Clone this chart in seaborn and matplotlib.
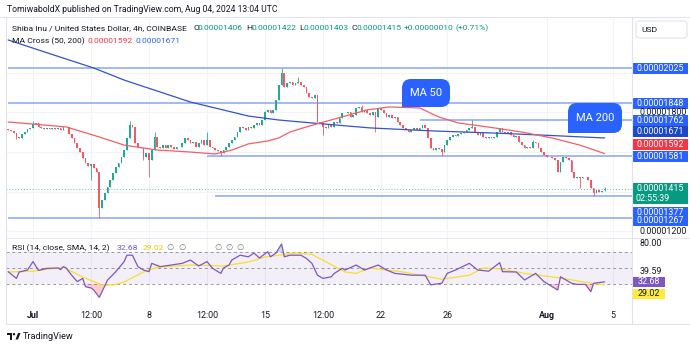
import numpy as np
import pandas as pd
import matplotlib
matplotlib.use("Agg")
import matplotlib.pyplot as plt
from matplotlib.patches import Rectangle, FancyBboxPatch
import seaborn as sns

sns.set_theme(style="white")
plt.rcParams["font.family"] = ["Roboto", "DejaVu Sans"]

UNIT = 1e-8  # SHIB/USD quotes kept as integer multiples of 0.00000001 USD

# ---------------- data: COINBASE SHIB/USD, 4h candles ----------------
start_time = "2024-06-29 12:00"
closes = [
    1711, 1706, 1696, 1676, 1671, 1691, 1701, 1716, 1722,
    1742, 1747, 1727, 1722, 1716, 1722,
    1716, 1722, 1716, 1722, 1711, 1727,
    1727, 1691, 1671, 1646, 1620, 1600,
    1570, 1544, 1529, 1539, 1519, 1499,
    1317,
    1357, 1393, 1423, 1458, 1494, 1524, 1544, 1575, 1610, 1671, 1737,
    1727, 1646, 1625, 1620, 1575, 1595, 1560, 1610, 1676, 1625, 1620,
    1635, 1620, 1635, 1625, 1615, 1625, 1625, 1646, 1671, 1661, 1646,
    1651, 1625, 1646, 1661, 1635, 1661, 1625, 1620, 1610, 1605, 1595,
    1610, 1625, 1646, 1661, 1676, 1701, 1727, 1722, 1711, 1727, 1722,
    1737, 1747, 1737, 1762, 1802, 1813, 1797, 1813, 1863, 1939, 2000,
    1929, 1949, 1954, 1939, 1949, 1954, 1939, 1929, 1899, 1878, 1873,
    1888, 1752, 1747, 1727, 1722, 1737, 1727, 1752, 1747, 1772, 1797,
    1797, 1802, 1777, 1787, 1823, 1828, 1802, 1813, 1797, 1787, 1802,
    1777, 1823, 1813, 1797, 1777, 1787, 1772, 1777, 1752, 1737, 1722,
    1711, 1701, 1711, 1722, 1711, 1722, 1737, 1722, 1671, 1620, 1610,
    1620, 1615, 1600, 1635, 1661, 1676, 1686, 1681, 1691, 1696, 1701,
    1711, 1722, 1727, 1701, 1686, 1696, 1676, 1671, 1676, 1671, 1676,
    1701, 1722, 1701, 1696, 1701, 1686, 1676, 1681, 1651, 1635, 1620,
    1625, 1620, 1651, 1646, 1620, 1600, 1585, 1575, 1575, 1570, 1560,
    1499, 1549, 1575, 1570, 1560, 1499, 1469, 1474, 1469, 1474, 1474,
    1458, 1418, 1393, 1408, 1398, 1405, 1415,
]
first_open = 1716
last_open = 1406
high_idx = [9, 44, 53, 72, 93, 99, 105, 128, 168, 190, 216]
high_vals = [1757, 1757, 1701, 1701, 1808, 2025, 1980, 1838, 1762, 1661, 1422]
low_idx = [3, 30, 33, 49, 51, 77, 114, 133, 157, 207, 212, 216]
low_vals = [1666, 1458, 1267, 1560, 1474, 1581, 1686, 1701, 1580, 1418, 1377, 1403]

# MA Cross (50, 200)
ma50_idx = [0, 21, 33, 42, 54, 66, 75, 81, 87, 94, 98, 102, 108, 113, 122,
            130, 138, 149, 156, 163, 171, 176, 186, 197, 207, 216]
ma50_vals = [1752, 1727, 1676, 1635, 1610, 1600, 1590, 1610, 1641, 1656, 1671,
             1701, 1727, 1747, 1782, 1813, 1828, 1823, 1777, 1747, 1732, 1722,
             1701, 1671, 1635, 1592]
ma200_idx = [0, 15, 31, 42, 66, 87, 98, 110, 131, 155, 176, 196, 216]
ma200_vals = [2167, 2098, 2025, 1964, 1853, 1782, 1762, 1747, 1722, 1706, 1696,
              1684, 1671]

# RSI (14, close) and its SMA (14)
rsi_idx = [0, 3, 4, 7, 9, 11, 14, 18, 19, 20, 21, 23, 25, 27, 28, 30, 31, 33,
           34, 36, 39, 42, 43, 45, 47, 49, 51, 52, 55, 59, 63, 66, 69, 72, 74,
           77, 78, 80, 81, 84, 87, 89, 91, 94, 95, 97, 99, 100, 102, 106, 108,
           110, 112, 114, 117, 118, 121, 122, 126, 129, 134, 137, 140, 146,
           151, 153, 157, 159, 162, 167, 170, 174, 178, 179, 184, 187, 191,
           194, 199, 200, 204, 206, 209, 211, 212, 216]
rsi_vals = [45.4, 37, 45, 47.5, 58, 47, 49.6, 50, 48, 51.7, 50, 41, 33, 37,
            26.7, 25, 22.5, 13.3, 20.4, 35, 45.4, 58, 66, 66, 51.7, 47.5, 45.4,
            55.8, 51.7, 53.7, 55.8, 60, 52.5, 58, 49.6, 43.3, 50, 53.7, 60, 66,
            64, 68.7, 62.5, 70.4, 64, 68.8, 80, 64, 66, 66, 62, 55.8, 41, 37,
            39, 43, 49.6, 47.5, 53.7, 47.5, 53.7, 47.5, 43.3, 41, 41, 29, 30.9,
            43.3, 47.5, 55.8, 47.5, 46, 56.7, 45.4, 45, 35, 43.3, 33, 22.5, 39,
            31, 29.5, 29.5, 20.4, 30.9, 32.68]
rsi_sma_idx = [0, 9, 20, 27, 34, 38, 42, 49, 54, 66, 78, 87, 93, 104, 110, 116,
               122, 126, 131, 143, 157, 167, 172, 178, 187, 200, 211, 216]
rsi_sma_vals = [45, 46, 51, 38.7, 28.7, 28.7, 32.5, 45, 51, 53.7, 52.5, 57.5,
                63.7, 68.7, 67, 56, 45, 43.3, 50, 45, 36, 41, 50, 49, 43.3,
                37.5, 31, 29.02]

# horizontal levels drawn on the chart
levels = [2025, 1848, 1762, 1581, 1377, 1267]
level_from = ["2024-06-29 12:00", "2024-06-29 12:00", "2024-07-24 08:00",
              "2024-07-11 12:00", "2024-07-12 00:00", "2024-06-29 12:00"]

price_ticks = [2000, 1800, 1600, 1400, 1200]
tick_times = ["2024-07-01", "2024-07-04 12:00", "2024-07-08", "2024-07-11 12:00",
              "2024-07-15", "2024-07-18 12:00", "2024-07-22", "2024-07-26",
              "2024-08-01", "2024-08-05"]
tick_labels = ["Jul", "12:00", "8", "12:00", "15", "12:00", "22", "26", "Aug", "5"]
rsi_scale_labels = [80.00, 39.59]
countdown = "02:55:39"

# ---------------- colours ----------------
UP, DOWN = "#22ab94", "#f45865"
MA50_C, MA200_C = "#f45d69", "#3552c8"
LEVEL_C = "#88a4f7"
BLUE, DARK_BLUE, RED, GREEN = "#2962ff", "#1b47c9", "#f23645", "#089981"
PURPLE, YELLOW = "#7e57c2", "#f7df2a"
TXT, GRID, FRAME = "#131722", "#f2f3f6", "#e0e3eb"

# ---------------- derived series ----------------
n = len(closes)
times = pd.date_range(start_time, periods=n, freq="4h")
t0 = times[0]


def to_idx(ts):
    return (pd.Timestamp(ts) - t0) / pd.Timedelta("4h")


c = np.array(closes, float)
o = np.r_[first_open, c[:-1]]
o[-1] = last_open
hi = np.maximum(o, c)
lo = np.minimum(o, c)
hi[high_idx] = np.maximum(hi[high_idx], high_vals)
lo[low_idx] = np.minimum(lo[low_idx], low_vals)
idx = np.arange(n)

# ---------------- figure & panes (pixel layout) ----------------
W, H = 690, 348
fig = plt.figure(figsize=(W / 100, H / 100), dpi=100)
fig.patch.set_facecolor("white")


def px_axes(left, top, right, bottom):
    return fig.add_axes([left / W, 1 - bottom / H, (right - left) / W, (bottom - top) / H])


ax = px_axes(6, 17, 632, 238)
ax_rsi = px_axes(6, 238, 632, 305)
XLIM = (-0.78, 225.9)
for a in (ax, ax_rsi):
    a.set_xlim(*XLIM)
    a.set_xticks([])
    a.set_yticks([])
    a.set_facecolor("white")
    for s in a.spines.values():
        s.set_visible(False)
ax.set_ylim(1164.9 * UNIT, 2283.2 * UNIT)
ax_rsi.set_ylim(3.75, 87.5)

tick_pos = [to_idx(t) for t in tick_times]
for tp in tick_pos:
    ax.axvline(tp, color=GRID, lw=0.8, zorder=0)
    ax_rsi.axvline(tp, color=GRID, lw=0.8, zorder=0)
for pt in price_ticks:
    ax.axhline(pt * UNIT, color=GRID, lw=0.8, zorder=0)

# levels
for v, t in zip(levels, level_from):
    ax.hlines(v * UNIT, to_idx(t), XLIM[1], color=LEVEL_C, lw=1.1, zorder=1)
# last price line
ax.axhline(c[-1] * UNIT, color=GREEN, lw=0.7, ls=(0, (1, 2)), alpha=0.6, zorder=1)

# candles
colors = np.where(c >= o, UP, DOWN)
ax.vlines(idx, lo * UNIT, hi * UNIT, colors=colors, lw=0.6, zorder=3)
body = np.maximum(np.abs(c - o), 2.0)
ax.bar(idx, body * UNIT, bottom=np.minimum(o, c) * UNIT, width=0.62,
       color=colors, lw=0, zorder=4)

# moving averages
sns.lineplot(x=ma200_idx, y=np.array(ma200_vals) * UNIT, ax=ax, color=MA200_C,
             lw=0.9, zorder=5, legend=False)
sns.lineplot(x=ma50_idx, y=np.array(ma50_vals) * UNIT, ax=ax, color=MA50_C,
             lw=0.9, zorder=5, legend=False)
ax.set_xlabel("")
ax.set_ylabel("")

# RSI pane
ax_rsi.axhspan(30, 70, color=PURPLE, alpha=0.09, lw=0, zorder=0)
for lvl in (70, 50, 30):
    ax_rsi.axhline(lvl, color="#9598a1", lw=0.7, ls=(0, (3, 3)), zorder=1)
ri = np.array(rsi_idx, float)
rv = np.array(rsi_vals, float)
ax_rsi.fill_between(ri, rv, 30, where=rv < 30, interpolate=True, color=RED,
                    alpha=0.25, lw=0, zorder=2)
ax_rsi.fill_between(ri, rv, 70, where=rv > 70, interpolate=True, color=GREEN,
                    alpha=0.25, lw=0, zorder=2)
sns.lineplot(x=rsi_sma_idx, y=rsi_sma_vals, ax=ax_rsi, color=YELLOW, lw=0.9,
             zorder=3, legend=False)
sns.lineplot(x=rsi_idx, y=rsi_vals, ax=ax_rsi, color=PURPLE, lw=0.9, zorder=4,
             legend=False)
ax_rsi.set_xlabel("")
ax_rsi.set_ylabel("")
ax_rsi.set_xlim(*XLIM)
ax.set_xlim(*XLIM)

# ---------------- overlay in pixel coordinates ----------------
ov = fig.add_axes([0, 0, 1, 1])
ov.set_xlim(0, W)
ov.set_ylim(H, 0)
ov.axis("off")
ov.patch.set_alpha(0)
ov.set_zorder(10)


def price_px(v):
    return H - ax.transData.transform((0, v * UNIT))[1]


def rsi_px(v):
    return H - ax_rsi.transData.transform((0, v))[1]


def x_px(i):
    return ax.transData.transform((i, 0))[0]


FS = 6.1
FS_SCALE = 6.4

# frame lines
ov.plot([0, W], [17, 17], color=FRAME, lw=0.8)
ov.plot([6, W], [238, 238], color=FRAME, lw=0.6)
ov.plot([6, W], [324, 324], color=FRAME, lw=0.8)
ov.plot([6, 6], [17, 324], color=FRAME, lw=0.8)
ov.plot([632, 632], [17, 324], color=FRAME, lw=0.8)

# header
ov.text(7, 9.5, "TomiwaboldX published on TradingView.com, Aug 04, 2024 13:04 UTC",
        fontsize=6.2, color=TXT, va="center", ha="left")

fmt = lambda v: f"{v * UNIT:.8f}"
line1 = [(12, "Shiba Inu / United States Dollar, 4h, COINBASE", TXT),
         (193, "O", TXT), (198, fmt(o[-1]), GREEN),
         (246, "H", TXT), (251.5, fmt(hi[-1]), GREEN),
         (299, "L", TXT), (304, fmt(lo[-1]), GREEN),
         (351, "C", TXT), (356.5, fmt(c[-1]), GREEN),
         (404, f"+{fmt(c[-1] - c[-2])}", GREEN),
         (455, f"(+{(c[-1] - c[-2]) / c[-2] * 100:.2f}%)", GREEN)]
for x, s, col in line1:
    ov.text(x, 28.5, s, fontsize=FS, color=col, va="center", ha="left")
line2 = [(12, "MA Cross (50, 200)", TXT), (87, fmt(ma50_vals[-1]), RED),
         (135, fmt(ma200_vals[-1]), BLUE)]
for x, s, col in line2:
    ov.text(x, 41, s, fontsize=FS, color=col, va="center", ha="left")

# USD button
ov.add_patch(FancyBboxPatch((636, 21), 51, 17, boxstyle="round,pad=0,rounding_size=3",
                            fc="white", ec=FRAME, lw=0.8))
ov.text(641, 29.5, "USD", fontsize=FS, color=TXT, va="center", ha="left")

# price-scale marks (boxes); tick labels hidden behind a box are skipped
scale_marks = [(2025, BLUE, 0), (1848, BLUE, 0), (1762, BLUE, 0),
               (ma200_vals[-1], DARK_BLUE, -6), (ma50_vals[-1], RED, -9.5),
               (1581, BLUE, 0.5), (1377, BLUE, 16), (1267, BLUE, 3)]
yl = price_px(c[-1])
covered = [(price_px(v) + s - 5.5, price_px(v) + s + 5.5) for v, _, s in scale_marks]
covered.append((yl - 6, yl + 15))

for pt in price_ticks:
    ty = price_px(pt)
    if any(a - 2 <= ty <= b + 2 for a, b in covered):
        continue
    ov.text(640, ty, fmt(pt), fontsize=FS_SCALE, color=TXT, va="center", ha="left")


def scale_box(y, text, fc, tc="white", x0=633, w=55, h=11):
    ov.add_patch(Rectangle((x0, y - h / 2), w, h, fc=fc, ec="none"))
    ov.text(x0 + w / 2, y, text, fontsize=FS_SCALE, color=tc, va="center", ha="center")


for v, col, shift in scale_marks:
    scale_box(price_px(v) + shift, fmt(v), col)

# last price with countdown
ov.add_patch(Rectangle((633, yl - 6), 55, 21, fc=GREEN, ec="none"))
ov.text(660.5, yl, fmt(c[-1]), fontsize=FS_SCALE, color="white", va="center", ha="center")
ov.text(636, yl + 9.5, countdown, fontsize=FS_SCALE, color="white", va="center", ha="left")


# MA callouts
def bubble(x0, y0, w, h, text):
    ov.add_patch(FancyBboxPatch((x0, y0), w, h, boxstyle="round,pad=0,rounding_size=9",
                                fc=BLUE, ec="none"))
    ov.add_patch(Rectangle((x0, y0 + h - 9), 9, 9, fc=BLUE, ec="none"))
    ov.text(x0 + w / 2, y0 + h / 2, text, fontsize=8, color="white",
            va="center", ha="center")


bubble(402, 79, 48, 28, "MA 50")
bubble(568, 103, 54, 30, "MA 200")

# RSI legend and scale
rsi_leg = [(12.5, "RSI (14, close, SMA, 14, 2)", TXT), (116.5, f"{rsi_vals[-1]:.2f}", PURPLE),
           (142.5, f"{rsi_sma_vals[-1]:.2f}", "#e8c800"),
           (166, "\u2205", "#787b86"), (178, "\u2205", "#787b86"),
           (214, "\u2205", "#787b86"), (225, "\u2205", "#787b86"), (236, "\u2205", "#787b86")]
for x, s, col in rsi_leg:
    ov.text(x, 248, s, fontsize=FS, color=col, va="center", ha="left")

ov.text(640, rsi_px(rsi_scale_labels[0]), f"{rsi_scale_labels[0]:.2f}", fontsize=FS_SCALE,
        color=TXT, va="center", ha="left")
ov.text(640, rsi_px(rsi_scale_labels[1]) - 5, f"{rsi_scale_labels[1]:.2f}", fontsize=FS_SCALE,
        color=TXT, va="center", ha="left")
scale_box(rsi_px(rsi_vals[-1]), f"{rsi_vals[-1]:.2f}", PURPLE, w=32, h=10.5)
scale_box(rsi_px(rsi_vals[-1]) + 12, f"{rsi_sma_vals[-1]:.2f}", "#ffeb3b", tc=TXT, w=32, h=10.5)

# time axis
for tp, lab in zip(tick_pos, tick_labels):
    bold = lab in ("Jul", "Aug")
    ov.text(x_px(tp), 315, lab, fontsize=FS_SCALE, color=TXT, va="center", ha="center",
            fontweight="bold" if bold else "normal")

# TradingView mark
ov.add_patch(Rectangle((7, 333), 5, 2.2, fc=TXT, ec="none"))
ov.add_patch(Rectangle((9.5, 333), 2.5, 6.5, fc=TXT, ec="none"))
ov.add_patch(plt.Circle((14, 334.2), 1.2, fc=TXT, ec="none"))
ov.add_patch(plt.Polygon([[15.5, 339.5], [18, 333], [20.5, 333], [18, 339.5]], fc=TXT, ec="none"))
ov.text(23, 336.5, "TradingView", fontsize=6.6, color=TXT, va="center", ha="left")

fig.savefig("out.png", dpi=100, facecolor="white")
